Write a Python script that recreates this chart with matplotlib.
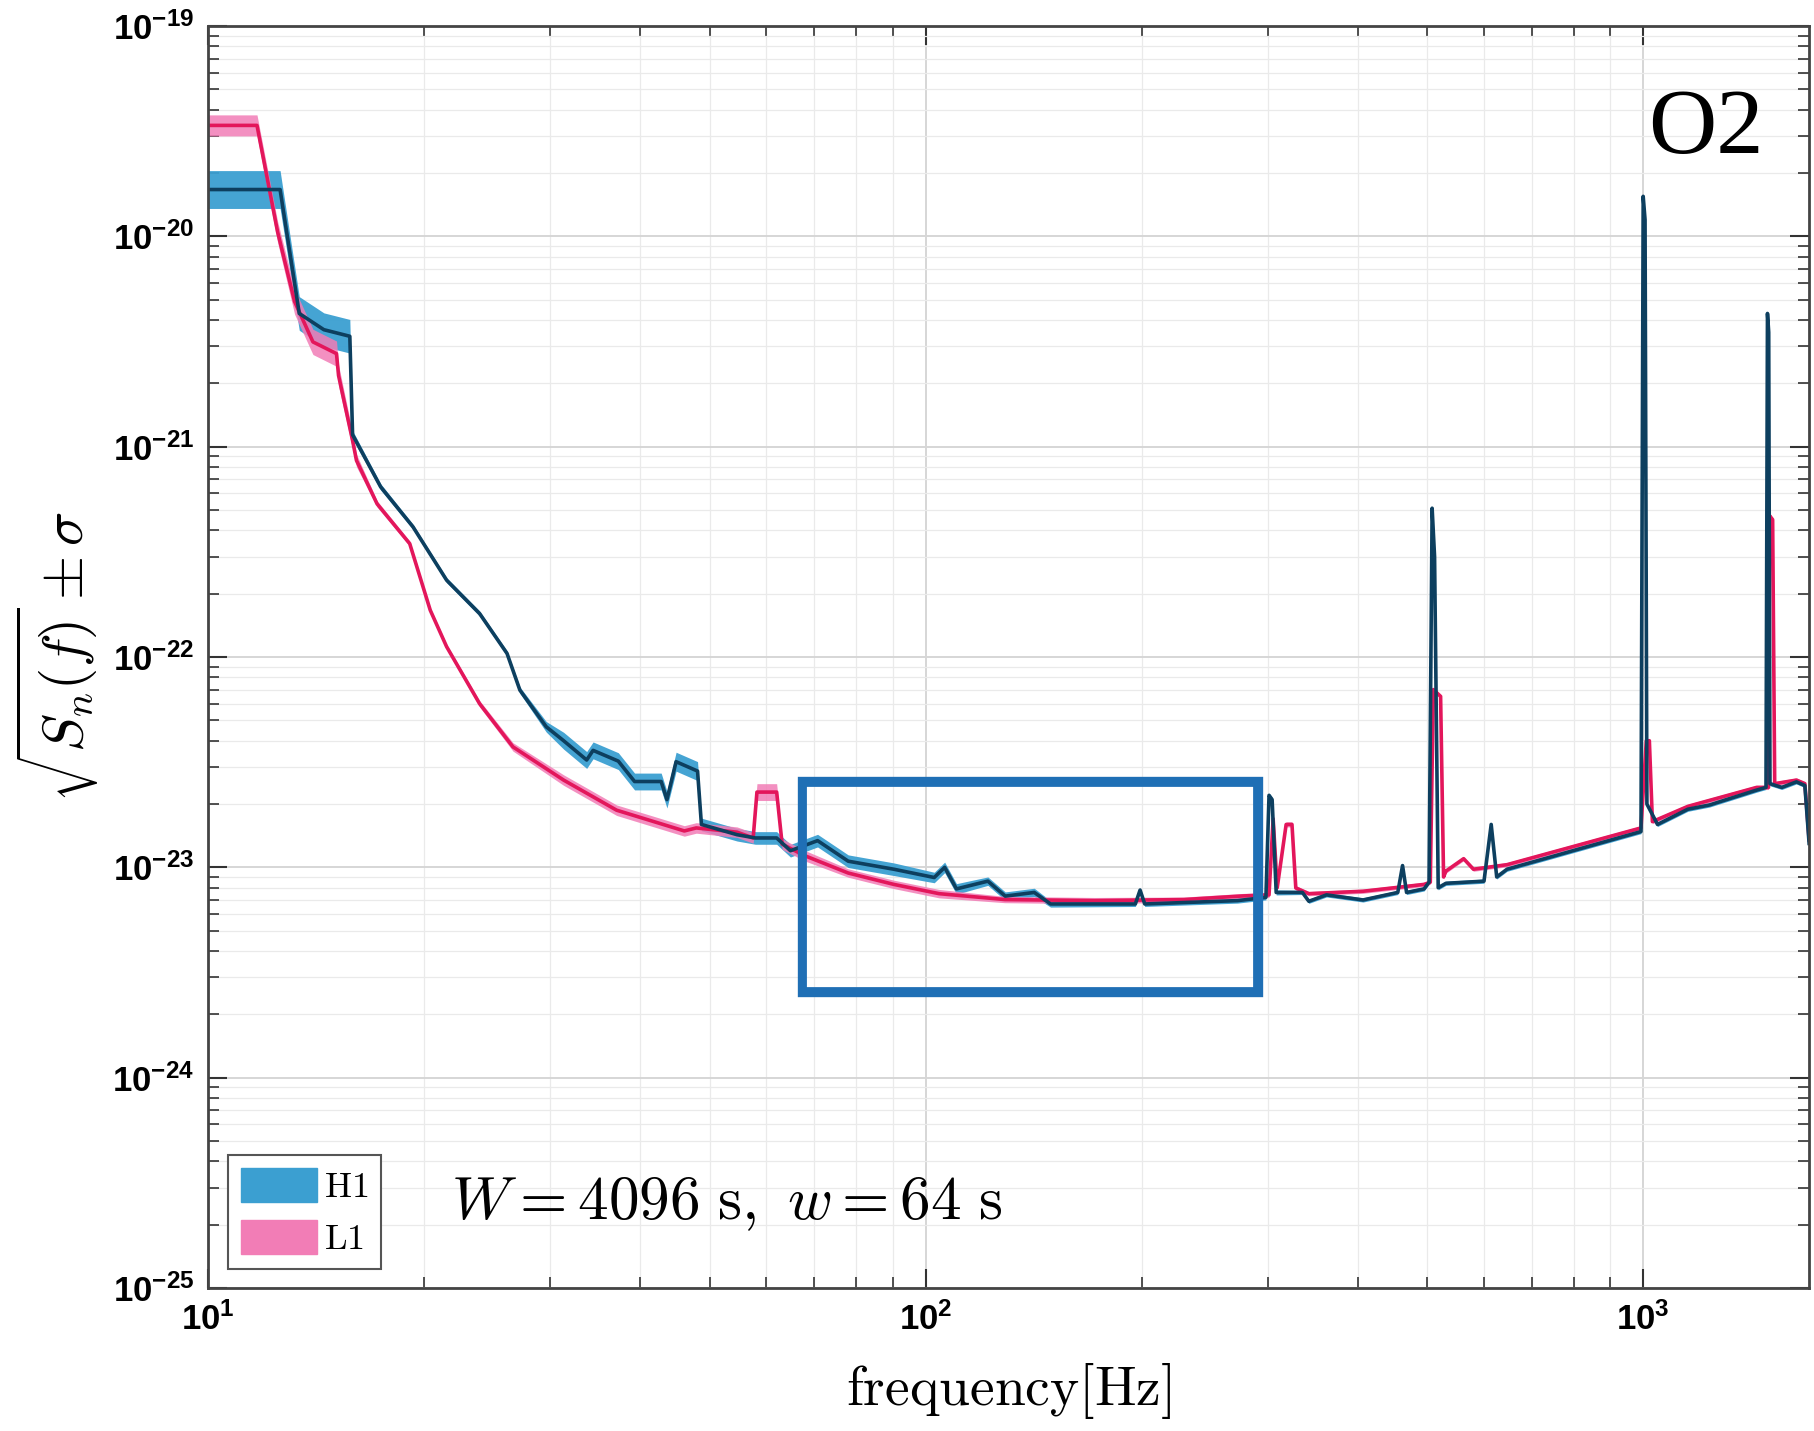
import matplotlib
matplotlib.use("Agg")
import matplotlib.pyplot as plt
import numpy as np
from matplotlib.patches import Patch, Rectangle
from matplotlib.ticker import LogLocator, FixedLocator, FuncFormatter, NullFormatter

plt.rcParams['mathtext.fontset'] = 'custom'
plt.rcParams['mathtext.rm'] = 'Liberation Sans'
plt.rcParams['mathtext.bf'] = 'Liberation Sans:bold'
plt.rcParams['mathtext.it'] = 'Liberation Sans:italic'

# H1 amplitude spectral density (Hz, strain/rtHz, band half-width in dex)
h1_freq = [10, 12.6, 13.4, 14.5, 15.76, 15.9, 17.4, 19.3, 21.5, 23.9, 26.1, 27.2, 29.6,
           31.3, 33.7, 34.4, 37.3, 39.3, 42.8, 43.6, 44.9, 48.1, 48.7, 54.6, 57.9, 62.0, 64.8,
           70.7, 78.0, 90.3, 102.8, 106.3, 110.4, 122.1, 129.1, 141.7, 149.3, 196, 199,
           202, 272, 298, 301, 304, 308, 335, 342, 362, 407, 455, 462, 468, 495, 503,
           508, 512, 518, 531, 600, 614, 625, 646, 993, 1000, 1006, 1012, 1047, 1154,
           1237, 1439, 1483, 1490, 1496, 1502, 1560, 1635, 1680, 1703]
h1_asd = [1.67e-20, 1.67e-20, 4.3e-21, 3.6e-21, 3.35e-21, 1.14e-21, 6.44e-22, 4.16e-22,
          2.32e-22, 1.61e-22, 1.04e-22, 6.96e-23, 4.66e-23, 4.0e-23, 3.24e-23, 3.6e-23, 3.2e-23,
          2.56e-23, 2.56e-23, 2.1e-23, 3.18e-23, 2.87e-23, 1.6e-23, 1.43e-23, 1.38e-23,
          1.38e-23, 1.2e-23, 1.34e-23, 1.07e-23, 9.8e-24, 8.95e-24, 1.0e-23, 7.9e-24,
          8.6e-24, 7.3e-24, 7.6e-24, 6.7e-24, 6.7e-24, 7.8e-24, 6.7e-24, 6.95e-24,
          7.2e-24, 2.2e-23, 2.1e-23, 7.6e-24, 7.6e-24, 6.9e-24, 7.4e-24, 7.0e-24,
          7.6e-24, 1.02e-23, 7.6e-24, 7.9e-24, 8.5e-24, 5.1e-22, 3.0e-22, 8.0e-24,
          8.4e-24, 8.6e-24, 1.6e-23, 9.0e-24, 9.8e-24, 1.48e-23, 1.55e-20, 1.2e-20,
          2.0e-23, 1.6e-23, 1.89e-23, 1.98e-23, 2.33e-23, 2.4e-23, 4.3e-21, 3.5e-21,
          2.5e-23, 2.4e-23, 2.55e-23, 2.45e-23, 1.3e-23]
h1_sig = [0.09, 0.09, 0.08, 0.08, 0.08, 0.02, 0.015, 0.012, 0.012, 0.012, 0.012, 0.015, 0.025,
          0.04, 0.04, 0.04, 0.04, 0.04, 0.04, 0.04, 0.045, 0.045, 0.03, 0.03, 0.03, 0.03, 0.03,
          0.03, 0.03, 0.03, 0.025, 0.025, 0.025, 0.02, 0.02, 0.02, 0.015, 0.012, 0.012,
          0.012, 0.012, 0.012, 0.012, 0.012, 0.012, 0.01, 0.01, 0.01, 0.01, 0.01, 0.01,
          0.01, 0.01, 0.01, 0.01, 0.01, 0.01, 0.01, 0.01, 0.01, 0.01, 0.01, 0.01, 0.01,
          0.01, 0.01, 0.01, 0.01, 0.01, 0.01, 0.01, 0.01, 0.01, 0.01, 0.01, 0.01, 0.01, 0.01]

# L1
l1_freq = [10, 11.7, 12.5, 13.2, 14.0, 15.1, 15.2, 15.9, 16.1, 17.2, 19.1, 20.4, 21.5,
           23.9, 26.6, 31.3, 37.1, 46.1, 47.9, 54.6, 57.5, 58.2, 62.0, 63.1, 67.7, 78.0,
           90.3, 104.4, 129, 172, 229, 276, 301, 305, 309, 318, 324, 328, 342, 407, 495,
           505, 510, 522, 527, 531, 562, 580, 646, 993, 1010, 1020, 1030, 1154, 1439,
           1495, 1500, 1515, 1525, 1635, 1680, 1703]
l1_asd = [3.37e-20, 3.37e-20, 1.05e-20, 4.9e-21, 3.15e-21, 2.77e-21, 2.18e-21, 1.07e-21,
          8.6e-22, 5.35e-22, 3.46e-22, 1.67e-22, 1.12e-22, 6.0e-23, 3.74e-23, 2.6e-23,
          1.87e-23, 1.49e-23, 1.54e-23, 1.47e-23, 1.38e-23, 2.28e-23, 2.28e-23, 1.29e-23,
          1.14e-23, 9.4e-24, 8.3e-24, 7.5e-24, 7.03e-24, 6.95e-24, 7.03e-24, 7.31e-24,
          7.4e-24, 1.7e-23, 8.0e-24, 1.6e-23, 1.6e-23, 7.98e-24, 7.5e-24, 7.7e-24, 8.3e-24,
          8.5e-24, 7.0e-23, 6.5e-23, 9.0e-24, 9.6e-24, 1.1e-23, 9.8e-24, 1.03e-23,
          1.54e-23, 4.0e-23, 4.0e-23, 1.65e-23, 1.95e-23, 2.4e-23, 2.4e-23, 4.7e-22,
          4.5e-22, 2.5e-23, 2.6e-23, 2.5e-23, 1.35e-23]
l1_sig = [0.05, 0.05, 0.05, 0.06, 0.06, 0.06, 0.05, 0.04, 0.03, 0.015, 0.012, 0.012, 0.012,
          0.015, 0.02, 0.025, 0.025, 0.025, 0.025, 0.025, 0.025, 0.04, 0.04, 0.025, 0.025,
          0.02, 0.02, 0.02, 0.015, 0.015, 0.012, 0.012, 0.012, 0.012, 0.012, 0.012, 0.012,
          0.012, 0.01, 0.01, 0.01, 0.01, 0.01, 0.01, 0.01, 0.01, 0.01, 0.01, 0.01, 0.01,
          0.01, 0.01, 0.01, 0.01, 0.01, 0.01, 0.01, 0.01, 0.01, 0.01, 0.01, 0.01]

# axis decades and highlighted region (Hz, strain)
x_decades = [10, 100, 1000]
y_decades = [1e-25, 1e-24, 1e-23, 1e-22, 1e-21, 1e-20, 1e-19]
box_f = [67.2, 291]
box_asd = [2.53e-24, 2.57e-23]


def band(asd, sig):
    asd = np.array(asd)
    k = 10 ** np.array(sig)
    return asd / k, asd * k


fig = plt.figure(figsize=(18.14, 14.31), dpi=100)
ax = fig.add_axes([0.1147, 0.0999, 0.8826, 0.8819])

lo, hi = band(h1_asd, h1_sig)
ax.fill_between(h1_freq, lo, hi, color='#3b9fd1', lw=0, alpha=0.95)
lo, hi = band(l1_asd, l1_sig)
ax.fill_between(l1_freq, lo, hi, color='#f27db6', lw=0, alpha=0.85)
ax.plot(l1_freq, l1_asd, color='#e3165b', lw=2.6)
ax.plot(h1_freq, h1_asd, color='#0d3f5f', lw=2.6)

ax.set_xscale('log')
ax.set_yscale('log')
ax.set_xlim(10, 1703)
ax.set_ylim(1e-25, 1e-19)

ax.xaxis.set_major_locator(FixedLocator(x_decades))
ax.yaxis.set_major_locator(FixedLocator(y_decades))
ax.yaxis.set_minor_locator(LogLocator(base=10, subs=np.arange(2, 10), numticks=20))
ax.xaxis.set_minor_locator(LogLocator(base=10, subs=np.arange(2, 10), numticks=20))
fmt = FuncFormatter(lambda v, p: r'$\mathbf{10^{%d}}$' % int(round(np.log10(v))))
ax.xaxis.set_major_formatter(fmt)
ax.yaxis.set_major_formatter(fmt)
ax.xaxis.set_minor_formatter(NullFormatter())
ax.yaxis.set_minor_formatter(NullFormatter())

ax.tick_params(which='both', direction='in', top=True, right=True, colors='#333333')
ax.tick_params(which='major', length=14, width=1.5, labelsize=25, labelcolor='black', pad=10)
ax.tick_params(which='minor', length=8, width=1.2)
for s in ax.spines.values():
    s.set_color('#444444')
    s.set_linewidth(2)

ax.grid(True, which='major', color='#d6d6d6', lw=1.4)
ax.grid(True, which='minor', color='#eaeaea', lw=0.9)
ax.set_axisbelow(True)

# hand-drawn highlight box
ax.add_patch(Rectangle((box_f[0], box_asd[0]), box_f[1] - box_f[0], box_asd[1] - box_asd[0],
                       fill=False, ec='#1f6fb5', lw=6, zorder=5))
ax.add_patch(Rectangle((box_f[0] * 1.01, box_asd[0] * 1.06), box_f[1] * 0.985 - box_f[0] * 1.01,
                       box_asd[1] * 0.96 - box_asd[0] * 1.06,
                       fill=False, ec='#1f6fb5', lw=2, zorder=5))

xl = ax.set_xlabel(r'$\mathrm{frequency[Hz]}$', fontsize=40, labelpad=18)
xl.set_math_fontfamily('cm')
yl = ax.set_ylabel(r'$\sqrt{S_n(f)} \pm \sigma$', fontsize=41, labelpad=8)
yl.set_math_fontfamily('cm')

t = ax.text(0.152, 0.067, r'$W = 4096\ \mathrm{s},\ w = 64\ \mathrm{s}$', transform=ax.transAxes,
            fontsize=44, va='center', ha='left')
t.set_math_fontfamily('cm')

ax.text(0.9357, 0.9176, 'O2', transform=ax.transAxes, fontsize=68, family='Liberation Serif',
        ha='center', va='center')

handles = [Patch(fc='#3b9fd1', ec='#3b9fd1', label=r'$\mathrm{H1}$'),
           Patch(fc='#f27db6', ec='#f27db6', label=r'$\mathrm{L1}$')]
leg = ax.legend(handles=handles, loc='lower left', bbox_to_anchor=(0.0125, 0.015),
                borderaxespad=0, fontsize=26, handlelength=2.1, handleheight=1.05,
                handletextpad=0.2, labelspacing=0.45, borderpad=0.35, fancybox=False,
                framealpha=1, edgecolor='#555555')
leg.get_frame().set_linewidth(1.5)
for txt in leg.get_texts():
    txt.set_math_fontfamily('cm')

fig.savefig('out.png', dpi=100)
